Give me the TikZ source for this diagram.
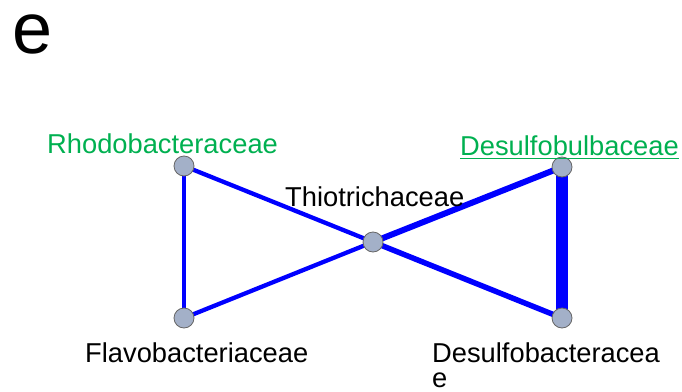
\documentclass[tikz,border=0pt]{standalone}
\usepackage{fontspec}
\setmainfont{Liberation Sans}
\definecolor{grnc}{RGB}{0,176,80}
\definecolor{edgec}{RGB}{0,0,255}
\definecolor{vtxc}{RGB}{163,176,200}
\begin{document}
\begin{tikzpicture}[x=1pt,y=-1pt,
  vtx/.style={circle,draw=black!60,fill=vtxc,line width=0.8pt,minimum size=20pt,inner sep=0pt},
  lbl/.style={font=\fontsize{27.3}{31}\selectfont,inner sep=0pt,anchor=base west},
  grn/.style={text=grnc},
  edge/.style={draw=edgec}
]
\useasboundingbox (0,0) rectangle (682,391);
\node[font=\fontsize{72}{76}\selectfont,inner sep=0pt,anchor=base west,text height=0.55em,text depth=0pt] (panel) at (12,53) {e};
\coordinate (cR) at (184,166);
\coordinate (cF) at (184,318);
\coordinate (cT) at (373,242);
\coordinate (cB) at (562,167);
\coordinate (cD) at (562,318);
\draw[edge,line width=4.3pt] (cR) -- (cF);
\draw[edge,line width=4.3pt] (cR) -- (cT);
\draw[edge,line width=4.3pt] (cF) -- (cT);
\draw[edge,line width=6pt] (cT) -- (cB);
\draw[edge,line width=5.5pt] (cT) -- (cD);
\draw[edge,line width=11.5pt] (cB) -- (cD);
\node[vtx] (R) at (cR) {};
\node[vtx] (F) at (cF) {};
\node[vtx] (T) at (cT) {};
\node[vtx] (B) at (cB) {};
\node[vtx] (D) at (cD) {};
\node[lbl,grn] (lR) at (47,153) {Rhodobacteraceae};
\node[lbl] (lT) at (285,206) {Thiotrichaceae};
\node[lbl,grn] (lB) at (460,155) {Desulfobulbaceae};
\draw[grnc,line width=1.2pt] ([yshift=-3.5pt]lB.base west) -- ([yshift=-3.5pt]lB.base east);
\node[lbl] (lF) at (85,362) {Flavobacteriaceae};
\node[lbl,text depth=0pt] (lD) at (432,362) {Desulfobacteracea};
\node[lbl,text height=0.55em,text depth=0pt] (lD2) at (432,387) {e};
\end{tikzpicture}
\end{document}
